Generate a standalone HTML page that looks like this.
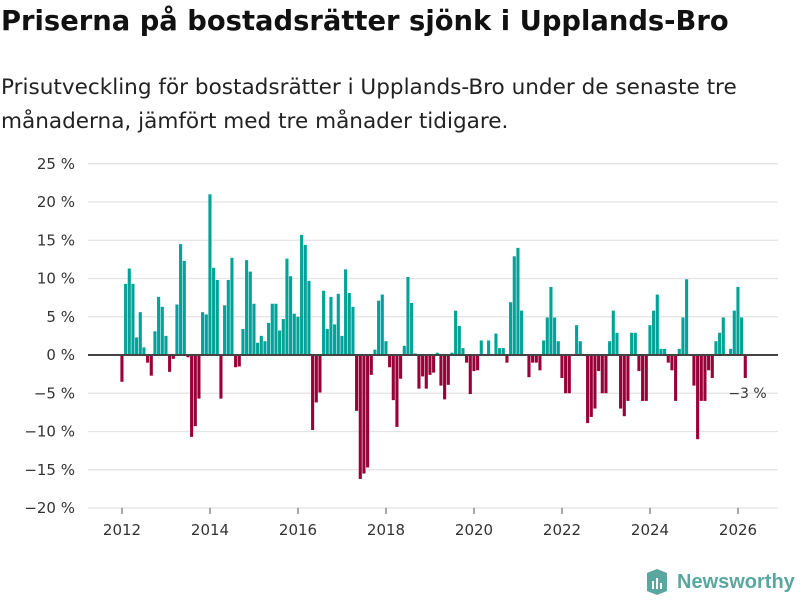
<!DOCTYPE html>
<html><head><meta charset="utf-8"><style>
body{margin:0;background:#fff;font-family:"DejaVu Sans","Liberation Sans",sans-serif;}
#wrap{position:relative;width:800px;height:600px;overflow:hidden;}
h1{position:absolute;left:1px;top:2px;margin:0;font-size:25px;font-weight:bold;color:#111;line-height:40px;white-space:nowrap;}
#sub{position:absolute;left:1px;top:71px;margin:0;font-size:20px;line-height:34px;color:#222;white-space:nowrap;}
svg{position:absolute;left:0;top:0;}
</style></head><body>
<div id="wrap">
<h1 id="title"><span id="t1">Priserna på bostadsrätter sjönk i Upplands-Bro</span></h1>
<p id="sub"><span id="s1">Prisutveckling för bostadsrätter i Upplands-Bro under de senaste tre</span><br>månaderna, jämfört med tre månader tidigare.</p>
<svg id="chart" width="800" height="600"></svg>
<div style="position:absolute;left:645px;top:569px;display:flex;align-items:center;">
<svg width="24" height="26" style="position:static"><path d="M2 4 L12 0 L22 4 L22 22 L12 26 L2 22 Z" fill="#5aa79f"/><rect x="7" y="12" width="2" height="8" fill="#fff"/><rect x="11" y="9" width="2" height="11" fill="#fff"/><rect x="15" y="14" width="2" height="6" fill="#fff"/></svg>
<span style="font-family:'Liberation Sans',sans-serif;font-size:20px;font-weight:bold;color:#5aa79f;margin-left:8px;">Newsworthy</span></div>
</div>
<script>
// fit heading widths to reference
(function(){
 const fit=(el,span,target)=>{const w=span.getBoundingClientRect().width;const fs=parseFloat(getComputedStyle(el).fontSize);el.style.fontSize=(fs*target/w).toFixed(2)+'px';};
 fit(document.getElementById('title'),document.getElementById('t1'),728);
 fit(document.getElementById('sub'),document.getElementById('s1'),736);
})();
const values=[-3.5,9.3,11.3,9.3,2.3,5.6,1,-1,-2.7,3.1,7.6,6.3,2.5,-2.2,-0.5,6.6,14.5,12.3,-0.3,-10.7,-9.3,-5.7,5.6,5.3,21,11.4,9.8,-5.7,6.5,9.8,12.7,-1.6,-1.5,3.4,12.4,10.9,6.7,1.6,2.5,1.8,4.2,6.7,6.7,3.2,4.7,12.6,10.3,5.4,5.0,15.7,14.4,9.7,-9.8,-6.2,-4.9,8.4,3.4,7.6,4.0,8.0,2.5,11.2,8.1,6.3,-7.3,-16.2,-15.5,-14.7,-2.6,0.7,7.1,7.9,1.8,-1.6,-5.9,-9.4,-3.1,1.2,10.2,6.8,0.2,-4.4,-2.8,-4.4,-2.6,-2.3,0.3,-4.0,-5.8,-3.9,0.3,5.8,3.8,0.9,-1.0,-5.1,-2.1,-2.0,1.9,0,1.9,0,2.8,0.9,0.9,-1.0,6.9,12.9,14.0,5.8,0,-2.9,-1.0,-1.0,-2.0,1.9,4.9,8.9,4.9,1.8,-3.0,-5.0,-5.0,0,3.9,1.8,0,-8.9,-8.1,-7.0,-2.1,-5.0,-5.0,1.8,5.8,2.9,-7.0,-8.0,-6.0,2.9,2.9,-2.1,-6.0,-6.0,3.9,5.8,7.9,0.8,0.8,-1.0,-2.0,-6.0,0.8,4.9,9.9,0,-4.0,-11.0,-6.0,-6.0,-2.0,-3.0,1.8,2.9,4.9,0,0.8,5.8,8.9,4.9,-3.0];
const startYear=2012;
const yTicks=[25,20,15,10,5,0,-5,-10,-15,-20];
const xTicks=[2012,2014,2016,2018,2020,2022,2024,2026];
const lastLabel="−3 %";
const NS="http://www.w3.org/2000/svg";
const FONT='DejaVu Sans, Liberation Sans, sans-serif';
const svg=document.getElementById('chart');
const y=v=>355-v*7.65;
const x=i=>122+i*(44/12);
const xYear=yr=>122+(yr-startYear)*44;
function mk(t,a){const e=document.createElementNS(NS,t);for(const k in a)e.setAttribute(k,a[k]);svg.appendChild(e);return e;}
yTicks.forEach(t=>{
 const g=mk('line',{x1:88,x2:778,y1:y(t),y2:y(t),stroke:'#e3e3e3','stroke-width':1.3});
 
 
 const tx=mk('text',{x:75,y:y(t)+5,'text-anchor':'end','font-size':15,fill:'#333','font-family':FONT});
 tx.textContent=(t<0?'−'+(-t):t)+' %';
 
 
});
xTicks.forEach(yr=>{
 const l=mk('line',{x1:xYear(yr),x2:xYear(yr),y1:508,y2:514,stroke:'#555','stroke-width':1});
 
 
 const tx=mk('text',{x:xYear(yr),y:535,'text-anchor':'middle','font-size':15,fill:'#333','font-family':FONT});
 tx.textContent=yr;
 
 
});
values.forEach((v,i)=>{
 if(v===0)return;
 const top=Math.min(y(v),y(0)),h=Math.abs(y(v)-y(0));
 const r=mk('rect',{x:x(i)-1.6,y:top,width:3.1,height:h,fill:v>0?'#00a398':'#990038'});
 
 
});
const z=mk('line',{x1:88,x2:778,y1:y(0),y2:y(0),stroke:'#444','stroke-width':2});


const lt=mk('text',{x:x(values.length-1)-17,y:y(values[values.length-1])+20,'font-size':14,fill:'#333','font-family':FONT});
lt.textContent=lastLabel;


</script>
</body></html>
